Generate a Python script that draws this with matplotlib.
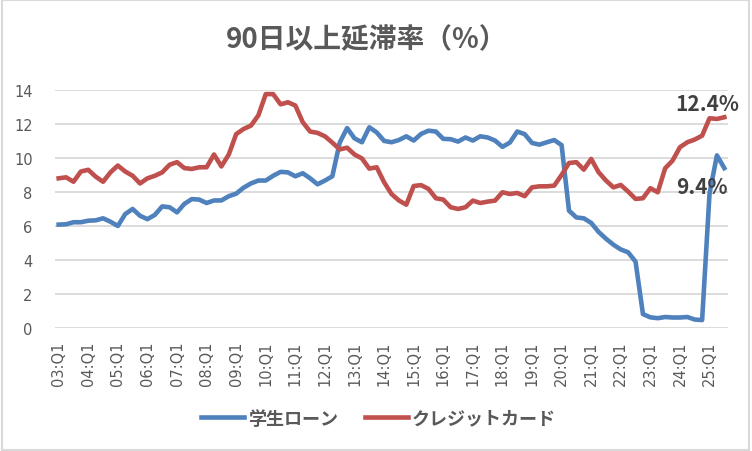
import matplotlib
matplotlib.use("Agg")
from matplotlib import pyplot as plt
from matplotlib.patches import Rectangle

plt.rcParams['font.family'] = ['Noto Sans CJK JP', 'DejaVu Sans']

# quarterly labels 03:Q1 .. 25:Q3
quarters = [f"{y:02d}:Q{q}" for y in range(3, 26) for q in range(1, 5)][:91]

# 90+ days delinquency, %
student_loan = [
    6.08, 6.10, 6.22, 6.22, 6.31, 6.33, 6.45, 6.25, 6.00, 6.70,
    7.00, 6.60, 6.40, 6.65, 7.15, 7.10, 6.80, 7.30, 7.58, 7.55,
    7.35, 7.50, 7.50, 7.75, 7.90, 8.25, 8.50, 8.67, 8.67, 8.95,
    9.18, 9.15, 8.92, 9.10, 8.80, 8.45, 8.67, 8.92, 10.90, 11.75,
    11.15, 10.92, 11.80, 11.50, 11.00, 10.92, 11.05, 11.27, 11.02, 11.41,
    11.60, 11.55, 11.12, 11.10, 10.96, 11.20, 11.02, 11.27, 11.20, 11.02,
    10.65, 10.90, 11.55, 11.40, 10.88, 10.78, 10.92, 11.05, 10.75, 6.90,
    6.50, 6.45, 6.18, 5.65, 5.25, 4.90, 4.62, 4.45, 3.90, 0.82,
    0.63, 0.58, 0.65, 0.62, 0.62, 0.65, 0.50, 0.47, 7.90, 10.15,
    9.40,
]
credit_card = [
    8.80, 8.86, 8.60, 9.20, 9.30, 8.90, 8.60, 9.15, 9.55, 9.20,
    8.95, 8.50, 8.80, 8.95, 9.15, 9.60, 9.75, 9.40, 9.35, 9.45,
    9.45, 10.20, 9.50, 10.20, 11.40, 11.70, 11.90, 12.50, 13.75, 13.75,
    13.15, 13.27, 13.08, 12.10, 11.55, 11.47, 11.27, 10.90, 10.50, 10.60,
    10.20, 9.97, 9.37, 9.45, 8.57, 7.88, 7.50, 7.25, 8.35, 8.40,
    8.18, 7.63, 7.55, 7.10, 7.00, 7.10, 7.49, 7.35, 7.43, 7.49,
    7.98, 7.88, 7.94, 7.75, 8.27, 8.33, 8.33, 8.37, 9.00, 9.70,
    9.75, 9.31, 9.94, 9.16, 8.67, 8.27, 8.41, 8.02, 7.59, 7.63,
    8.22, 7.98, 9.39, 9.84, 10.63, 10.92, 11.08, 11.31, 12.33, 12.29,
    12.39,
]

blue = "#4F81BD"
red = "#C0504D"
gray = "#595959"
grid = "#D9D9D9"

fig = plt.figure(figsize=(7.52, 4.52), dpi=100)
ax = fig.add_axes([0.0731, 0.272, 0.895, 0.527])

x = list(range(len(quarters)))
ax.plot(x, student_loan, color=blue, lw=3.3, label="学生ローン",
        solid_joinstyle="round")
ax.plot(x, credit_card, color=red, lw=3.3, label="クレジットカード",
        solid_joinstyle="round")

ax.set_xlim(-0.5, len(quarters) - 0.5)
ax.set_ylim(0, 14)
ax.set_yticks(range(0, 15, 2))
ax.set_xticks(x[::4])
ax.set_xticklabels(quarters[::4], rotation=90, fontfamily="DejaVu Sans")
ax.tick_params(axis="x", length=0, pad=9, labelsize=10.5, labelcolor=gray)
ax.tick_params(axis="y", length=0, pad=16, labelsize=10.5, labelcolor=gray)
for lab in ax.get_yticklabels():
    lab.set_fontfamily("DejaVu Sans")

ax.grid(axis="y", color=grid, lw=1.3)
ax.set_axisbelow(True)
for s in ax.spines.values():
    s.set_visible(False)

# end-of-series labels
ax.annotate(f"{credit_card[-1]:.1f}%", (x[-1], credit_card[-1]),
            xytext=(-17, 14), textcoords="offset pixels", ha="center",
            va="center", fontsize=15, fontweight="bold", color="#404040")
ax.annotate(f"{student_loan[-1]:.1f}%", (x[-1], student_loan[-1]),
            xytext=(-22, -18), textcoords="offset pixels", ha="center",
            va="center", fontsize=15, fontweight="bold", color="#404040")

fig.text(0.487, 0.91, "90日以上延滞率（%）", ha="center", va="center",
         fontsize=20, fontweight="bold", color=gray)

leg = fig.legend(loc="center", bbox_to_anchor=(0.503, 0.073), ncol=2,
                 frameon=False, fontsize=13, handlelength=2.4,
                 handletextpad=0.2, columnspacing=1.5)
for t in leg.get_texts():
    t.set_color(gray)
    t.set_fontweight("bold")
for h in leg.get_lines():
    h.set_linewidth(3.3)

fig.patches.append(Rectangle((0.002, 0.003), 0.994, 0.994,
                             transform=fig.transFigure, fill=False,
                             edgecolor=grid, lw=1.5))

fig.savefig("out.png", dpi=100)
